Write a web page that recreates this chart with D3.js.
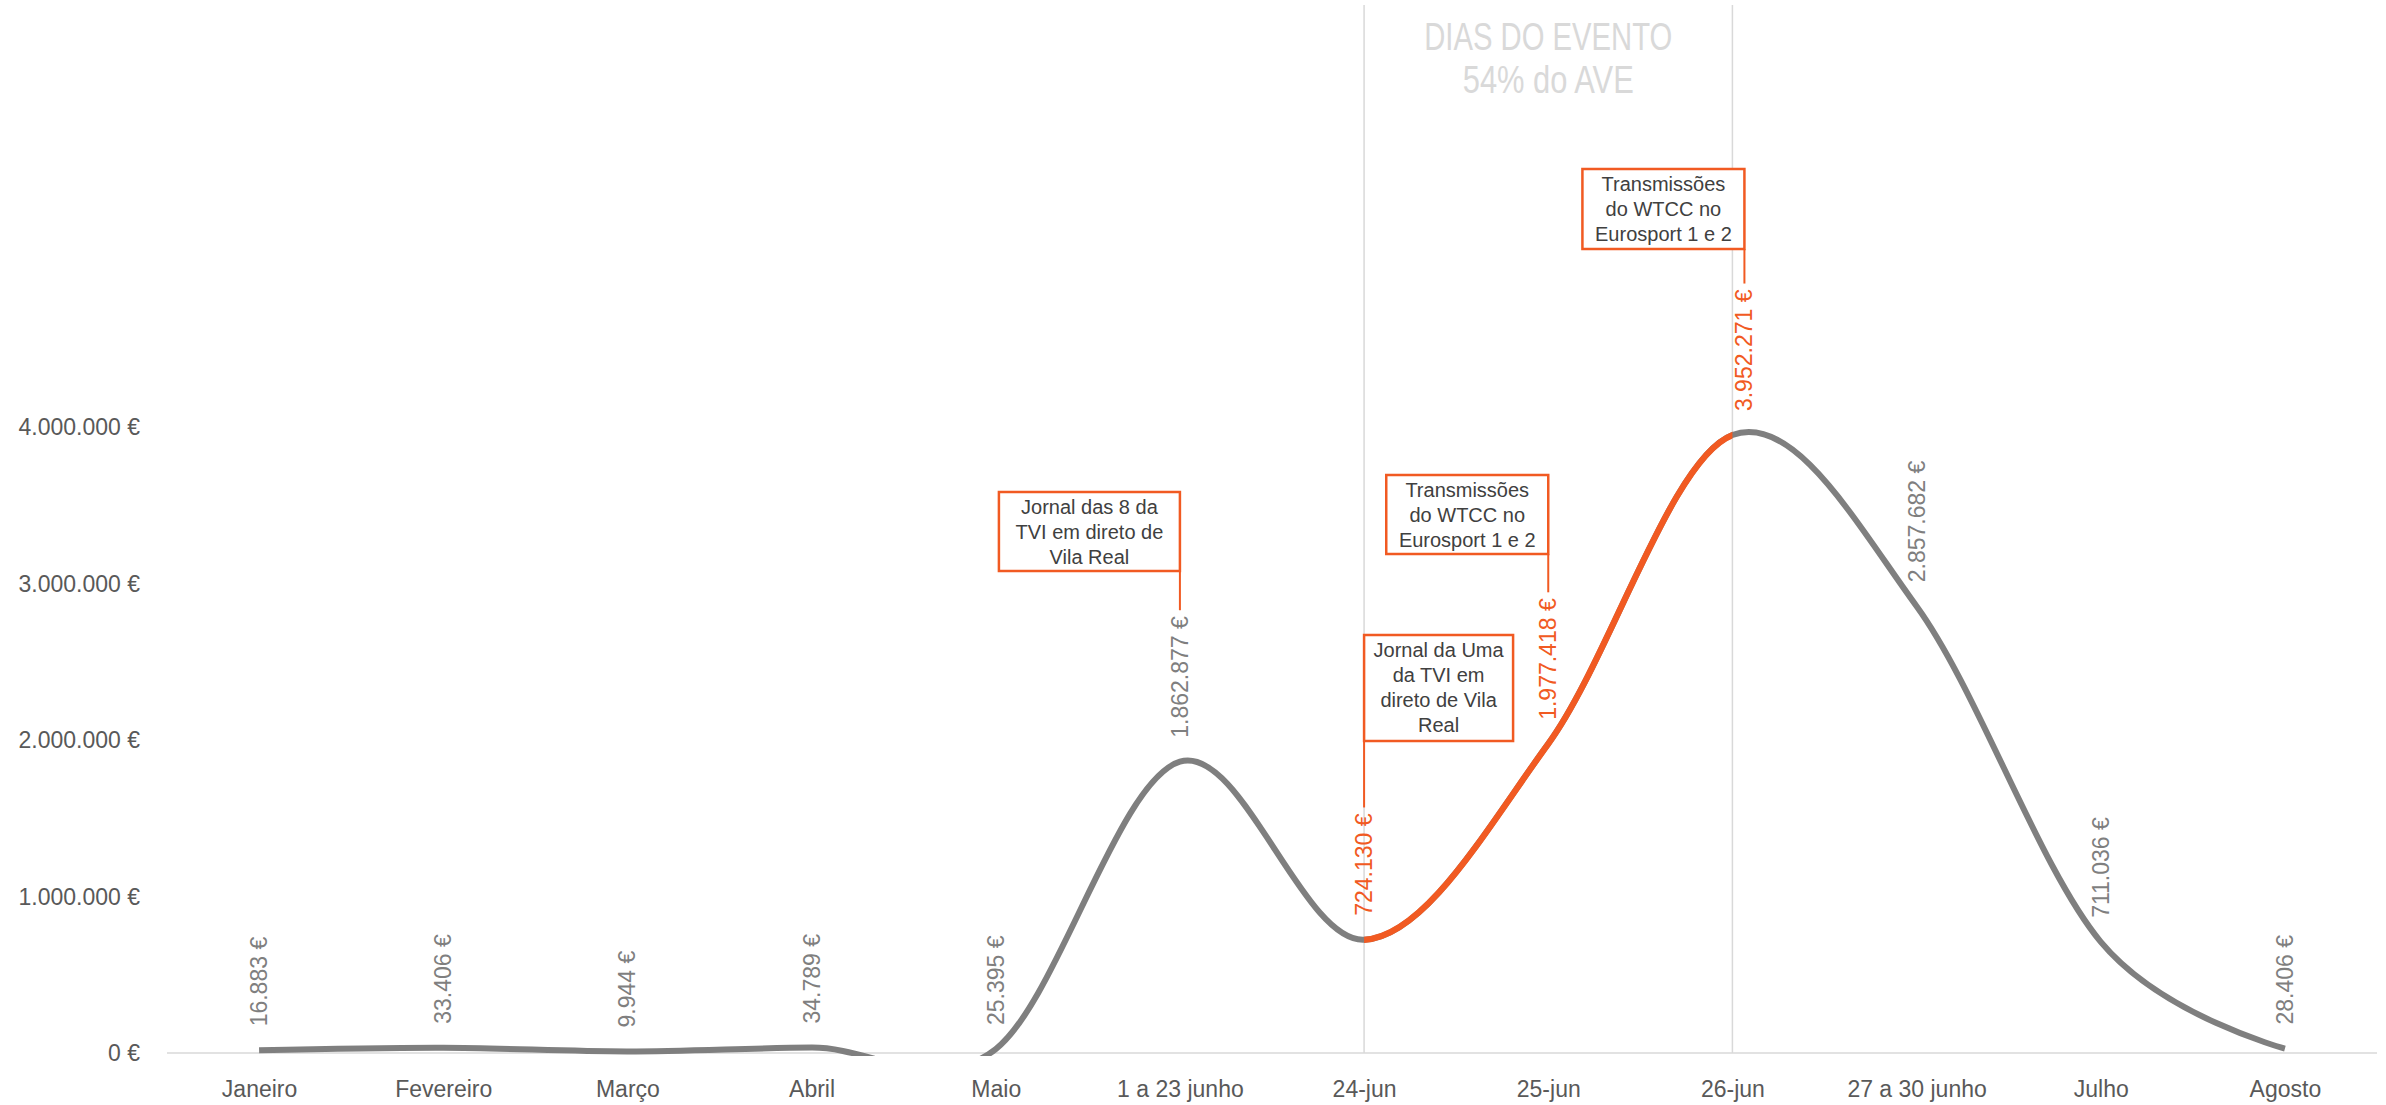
<!DOCTYPE html>
<html>
<head>
<meta charset="utf-8">
<script src="https://cdn.jsdelivr.net/npm/d3@7"></script>
<style>
  html, body { margin: 0; padding: 0; background: #ffffff; }
  svg { display: block; font-family: "Liberation Sans", Arial, sans-serif; }
</style>
</head>
<body>
<svg id="chart" width="2386" height="1105"></svg>
<script>
// ---- data ----
const categories = ["Janeiro","Fevereiro","Março","Abril","Maio","1 a 23 junho","24-jun","25-jun","26-jun","27 a 30 junho","Julho","Agosto"];
const values = [16883, 33406, 9944, 34789, 25395, 1862877, 724130, 1977418, 3952271, 2857682, 711036, 28406];
const highlighted = ["24-jun","25-jun","26-jun"];
const yTicks = [0, 1000000, 2000000, 3000000, 4000000];
const titleLines = ["DIAS DO EVENTO", "54% do AVE"];
const annotationCats = ["1 a 23 junho", "24-jun", "25-jun", "26-jun"];
const annotationTexts = [
  ["Jornal das 8 da", "TVI em direto de", "Vila Real"],
  ["Jornal da Uma", "da TVI em", "direto de Vila", "Real"],
  ["Transmissões", "do WTCC no", "Eurosport 1 e 2"],
  ["Transmissões", "do WTCC no", "Eurosport 1 e 2"]
];

// ---- layout / style (kept separate from data) ----
const W = 2386, H = 1105;
const plot = { left: 167, right: 2377, top: 5, bottom: 1053 };
const GRAY = "#7f7f7f", ORANGE = "#F15A22", LIGHT = "#d9d9d9";
const annLayout = [
  { side: "left",  boxW: 181, boxTop: 492, boxH: 79, dx: 0 },
  { side: "right", boxW: 149, boxTop: 635, boxH: 106, dx: 0 },
  { side: "left",  boxW: 162, boxTop: 475, boxH: 79, dx: 0 },
  { side: "left",  boxW: 162, boxTop: 169, boxH: 80, dx: 12 }
];
const labelDx = { "26-jun": 12 };

const svg = d3.select("#chart");
svg.append("rect").attr("width", W).attr("height", H).attr("fill", "#fff");

const x = d3.scalePoint().domain(categories).range([plot.left, plot.right]).padding(0.5);
const y = d3.scaleLinear().domain([0, 4000000]).range([plot.bottom, plot.bottom - 4 * 156.35]);

const locale = d3.formatLocale({ decimal: ",", thousands: ".", grouping: [3], currency: ["", " €"] });
const fmt = locale.format("$,.0f");

// event day vertical lines
const xa = x("24-jun"), xb = x("26-jun");
svg.append("g").selectAll("line").data(["24-jun", "26-jun"]).join("line")
  .attr("x1", d => x(d)).attr("x2", d => x(d))
  .attr("y1", plot.top).attr("y2", plot.bottom)
  .attr("stroke", LIGHT).attr("stroke-width", 1.5);

// title
const tl = svg.append("g").attr("fill", LIGHT).attr("font-size", 38).attr("text-anchor", "middle");
tl.append("text").attr("x", (xa + xb) / 2).attr("y", 50).attr("textLength", 248)
  .attr("lengthAdjust", "spacingAndGlyphs").text(titleLines[0]);
tl.append("text").attr("x", (xa + xb) / 2).attr("y", 93).attr("textLength", 171)
  .attr("lengthAdjust", "spacingAndGlyphs").text(titleLines[1]);

// y axis labels
const yAxis = d3.axisLeft(y).tickValues(yTicks).tickFormat(fmt).tickSize(0).tickPadding(0);
const gy = svg.append("g").attr("transform", `translate(140,0)`).call(yAxis);
gy.select(".domain").remove();
gy.selectAll("text").attr("fill", "#595959").attr("font-size", 23)
  .attr("font-family", "Liberation Sans, Arial, sans-serif");

// x axis
const xAxis = d3.axisBottom(x).tickSize(0).tickPadding(0);
const gx = svg.append("g").attr("transform", `translate(0,${plot.bottom})`).call(xAxis);
gx.select(".domain").attr("stroke", LIGHT).attr("stroke-width", 1.5)
  .attr("d", `M${plot.left},0H${plot.right}`);
gx.selectAll("text").attr("fill", "#595959").attr("font-size", 23)
  .attr("font-family", "Liberation Sans, Arial, sans-serif")
  .attr("dy", null).attr("y", 44);

// clip paths
const defs = svg.append("defs");
defs.append("clipPath").attr("id", "plotClip").append("rect")
  .attr("x", 0).attr("y", 0).attr("width", W).attr("height", plot.bottom + 3);
defs.append("clipPath").attr("id", "hiClip").append("rect")
  .attr("x", x(highlighted[0])).attr("y", 0)
  .attr("width", x(highlighted[highlighted.length - 1]) - x(highlighted[0]))
  .attr("height", plot.bottom + 3);

const pts = categories.map((c, i) => ({ c, v: values[i] }));
const line = d3.line().x(d => x(d.c)).y(d => y(d.v)).curve(d3.curveCardinal.tension(0));

svg.append("path").datum(pts).attr("d", line)
  .attr("fill", "none").attr("stroke", GRAY).attr("stroke-width", 6)
  .attr("stroke-linecap", "butt").attr("clip-path", "url(#plotClip)");
svg.append("g").attr("clip-path", "url(#hiClip)").append("path").datum(pts).attr("d", line)
  .attr("fill", "none").attr("stroke", ORANGE).attr("stroke-width", 6.2);

// data labels
const labelOffset = 24;
const labels = svg.append("g").attr("font-size", 23);
const labelEnds = {};
pts.forEach(d => {
  const lx = x(d.c) + (labelDx[d.c] || 0);
  const ly = y(d.v) - labelOffset;
  const t = labels.append("text")
    .attr("transform", `translate(${lx},${ly}) rotate(-90)`)
    .attr("text-anchor", "start").attr("dy", "0.35em")
    .attr("fill", highlighted.includes(d.c) ? ORANGE : GRAY)
    .text(fmt(d.v));
  labelEnds[d.c] = ly - t.node().getComputedTextLength();
});

// annotations
const ann = svg.append("g");
annotationCats.forEach((c, i) => {
  const L = annLayout[i];
  const lx = x(c) + L.dx;
  const bx = L.side === "left" ? lx - L.boxW : lx;
  ann.append("line")
    .attr("x1", lx).attr("x2", lx)
    .attr("y1", L.boxTop + L.boxH).attr("y2", labelEnds[c] - 6)
    .attr("stroke", ORANGE).attr("stroke-width", 2);
  ann.append("rect")
    .attr("x", bx).attr("y", L.boxTop).attr("width", L.boxW).attr("height", L.boxH)
    .attr("fill", "#fff").attr("stroke", ORANGE).attr("stroke-width", 2.5);
  const tx = ann.append("text").attr("text-anchor", "middle").attr("font-size", 20).attr("fill", "#404040");
  annotationTexts[i].forEach((s, k) => {
    tx.append("tspan").attr("x", bx + L.boxW / 2).attr("y", L.boxTop + 22 + k * 25).text(s);
  });
});
</script>
</body>
</html>
